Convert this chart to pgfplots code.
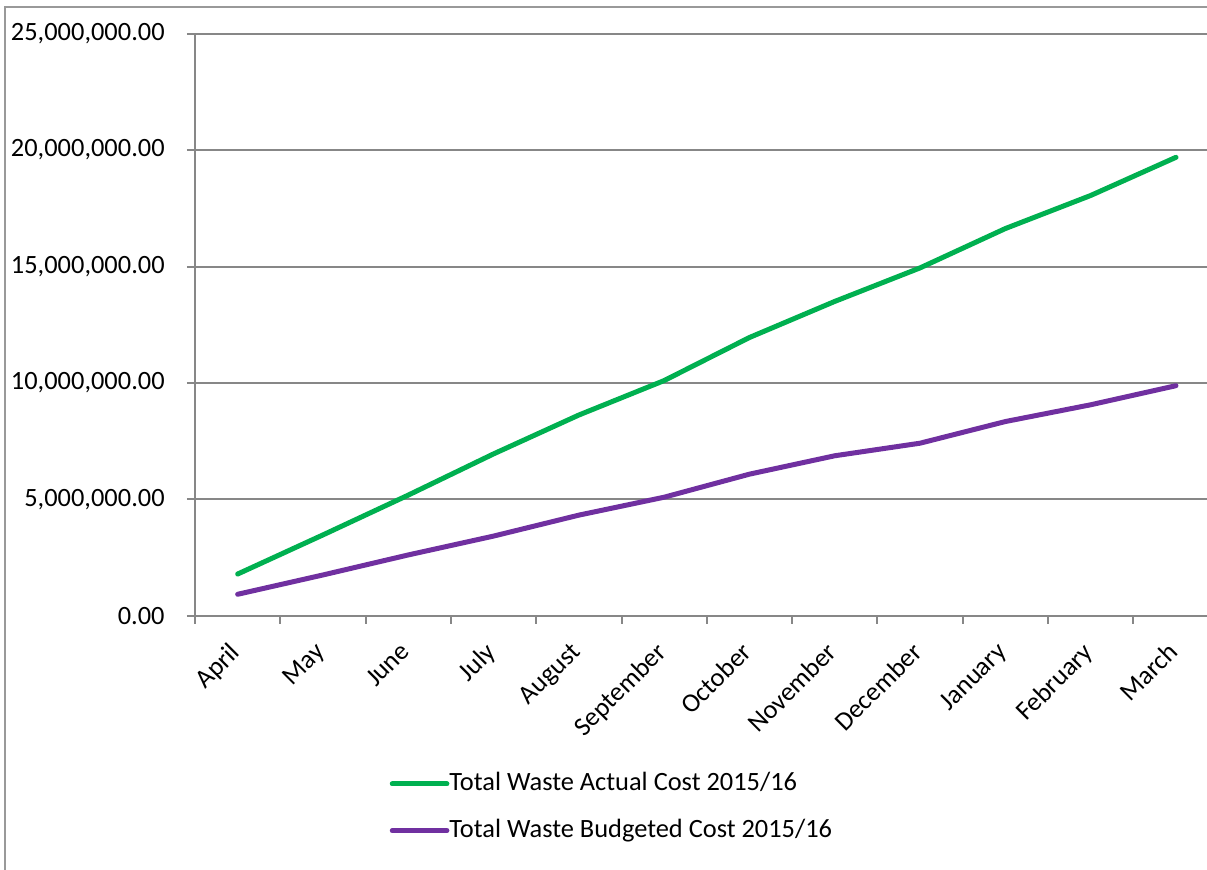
\documentclass[border=0pt]{standalone}
\usepackage{pgfplots}
\pgfplotsset{compat=1.18}
\usepackage{fontspec}
\setmainfont{Carlito}
\definecolor{grn}{HTML}{00B050}
\definecolor{pur}{HTML}{7030A0}
\definecolor{gridc}{HTML}{878787}
\begin{document}
\begin{tikzpicture}[x=0.75pt,y=0.75pt]
\useasboundingbox (0,0) rectangle (1207,869);
\begin{scope}
\clip (0,0) rectangle (1207,869);
\draw[color=gridc!85, line width=0.9pt] (5,-20) -- (5,862) -- (1230,862);
\begin{axis}[
  at={(146.25pt,189.975pt)}, anchor=south west,
  scale only axis, width=767.7pt, height=436.5pt,
  xmin=-0.5, xmax=11.5, ymin=0, ymax=25000000,
  scaled y ticks=false,
  axis x line*=bottom, axis y line*=left,
  axis line style={gridc, line width=1.5pt},
  ymajorgrids, major grid style={gridc, line width=1.5pt},
  tick align=outside, major tick length=6pt, minor tick length=6pt,
  tick style={gridc, line width=1.5pt},
  major x tick style={draw=none},
  xtick={0,1,2,3,4,5,6,7,8,9,10,11},
  minor xtick={-0.5,0.5,1.5,2.5,3.5,4.5,5.5,6.5,7.5,8.5,9.5,10.5,11.5},
  xticklabels={April,May,June,July,August,September,October,November,December,January,February,March},
  ytick={0,5000000,10000000,15000000,20000000,25000000},
  yticklabels={0.00,{5,000,000.00},{10,000,000.00},{15,000,000.00},{20,000,000.00},{25,000,000.00}},
  tick label style={font=\fontsize{19.8}{23.8}\selectfont, text=black},
  xticklabel style={xshift=-7pt, yshift=-8pt, rotate=45, anchor=north east},
  yticklabel style={anchor=east, xshift=-13.25pt},
  legend style={at={(axis description cs:0.19,-0.268)}, anchor=north west,
    draw=none, fill=none, inner sep=0pt, row sep=17pt,
    font=\fontsize{19.8}{23.8}\selectfont,
    nodes={inner sep=0pt, text height=14pt, text depth=4pt}},
  legend cell align=left,
  legend image code/.code={\path (0pt,0pt) -- (41pt,0pt);\draw[#1, line width=3.75pt, line cap=round] (1.875pt,0pt) -- (37.875pt,0pt);},
]
\addplot[grn, line width=3.75pt, line cap=round, line join=round] coordinates {
(0,1790000) (1,3470000) (2,5180000) (3,6950000) (4,8620000) (5,10100000)
(6,11950000) (7,13500000) (8,14940000) (9,16630000) (10,18050000) (11,19690000)};
\addlegendentry{Total Waste Actual Cost 2015/16}
\addplot[pur, line width=3.75pt, line cap=round, line join=round] coordinates {
(0,920000) (1,1750000) (2,2610000) (3,3420000) (4,4320000) (5,5090000)
(6,6080000) (7,6870000) (8,7410000) (9,8340000) (10,9060000) (11,9880000)};
\addlegendentry{Total Waste Budgeted Cost 2015/16}
\end{axis}
\end{scope}
\end{tikzpicture}
\end{document}
